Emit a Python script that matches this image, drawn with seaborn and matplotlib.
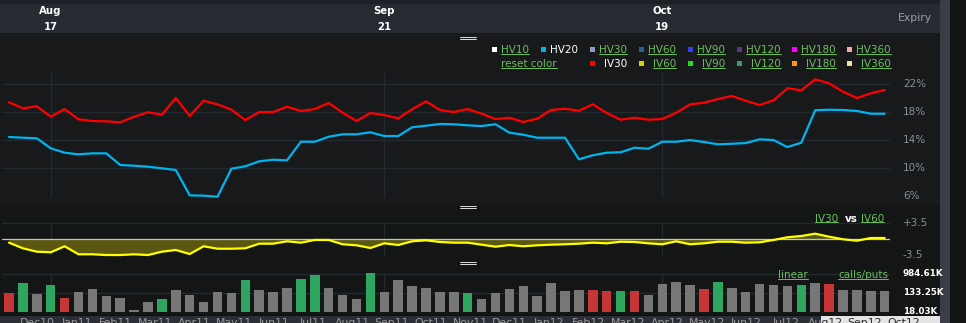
import numpy as np
import pandas as pd
import matplotlib
matplotlib.use("Agg")
import matplotlib.pyplot as plt
import seaborn as sns
from matplotlib.patches import Rectangle
from matplotlib.lines import Line2D
from matplotlib.transforms import blended_transform_factory, Bbox, TransformedBbox

# ---------------- data ----------------
iv30 = [19.43, 18.57, 18.86, 17.37, 18.47, 17.0, 16.76, 16.71, 16.57, 17.37,
        18.0, 17.66, 20.04, 17.47, 19.66, 19.14, 18.37, 16.9, 18.04, 18.04,
        18.8, 18.19, 18.47, 19.33, 17.94, 16.76, 17.9, 17.61, 17.14, 18.43,
        19.57, 18.33, 18.04, 18.47, 17.8, 17.04, 17.23, 16.61, 17.09, 18.33,
        18.51, 18.23, 19.14, 17.9, 16.94, 17.23, 16.94, 17.04, 17.94, 19.14,
        19.37, 19.9, 20.33, 19.66, 19.04, 19.71, 21.43, 21.14, 22.71, 22.14,
        20.94, 20.04, 20.71, 21.19]
hv20 = [14.47, 14.37, 14.29, 12.86, 12.23, 12.0, 12.14, 12.14, 10.47, 10.37,
        10.23, 10.0, 9.76, 6.14, 6.09, 5.94, 9.94, 10.29, 11.0, 11.23,
        11.14, 13.8, 13.8, 14.51, 14.86, 14.86, 15.14, 14.61, 14.61, 15.86,
        16.09, 16.33, 16.29, 16.14, 16.04, 16.29, 15.09, 14.8, 14.37, 14.37,
        14.37, 11.29, 11.86, 12.23, 12.29, 12.94, 12.8, 13.8, 13.8, 14.04,
        13.76, 13.43, 13.51, 13.61, 14.14, 14.04, 13.04, 13.66, 18.29, 18.37,
        18.33, 18.19, 17.8, 17.8]
spread = [-0.74, -1.97, -2.71, -2.84, -1.53, -3.28, -3.28, -3.44, -3.44, -3.28,
          -3.44, -2.71, -2.34, -3.22, -1.53, -2.06, -2.06, -1.97, -0.96, -0.96,
          -0.44, -0.74, -0.15, -0.15, -1.09, -1.31, -1.9, -0.88, -1.25, -0.44,
          -0.22, -0.59, -0.74, -0.74, -1.18, -1.62, -1.25, -1.53, -1.31, -1.18,
          -1.09, -0.96, -0.74, -0.88, -0.53, -0.59, -0.88, -1.09, -0.44, -1.09,
          -0.88, -0.53, -0.53, -0.74, -0.66, -0.15, 0.44, 0.72, 1.23, 0.57,
          0.0, -0.31, 0.28, 0.28]
volume_k = [123, 385, 119, 300, 80, 147, 203, 96, 75, 21.6,
            51, 70, 169, 107, 49, 147, 132, 513, 177, 147,
            218, 589, 838, 218, 110, 72, 1035, 137, 530, 259,
            225, 147, 143, 132, 70, 123, 196, 270, 93, 385,
            164, 177, 177, 164, 164, 164, 104, 321, 414, 288,
            196, 414, 225, 143, 345, 310, 259, 310, 372, 345,
            177, 169, 152, 152]
volume_kind = ["down", "up", "flat", "up", "down", "flat", "flat", "flat", "flat", "flat",
               "flat", "up", "flat", "flat", "flat", "flat", "flat", "up", "flat", "flat",
               "flat", "up", "up", "flat", "flat", "flat", "up", "flat", "flat", "flat",
               "flat", "flat", "flat", "up", "flat", "flat", "flat", "flat", "flat", "flat",
               "flat", "flat", "down", "down", "up", "down", "flat", "flat", "flat", "flat",
               "down", "up", "flat", "flat", "flat", "flat", "flat", "up", "flat", "down",
               "flat", "flat", "flat", "flat"]
expiry_month = ["Aug", "Sep", "Oct"]
expiry_day = ["17", "21", "19"]
expiry_index = [3, 27, 47]
pct_ticks = [22, 18, 14, 10, 6]
pct_grid = [22, 18, 14, 10]
spread_ticks = ["+3.5", "-3.5"]
spread_tick_vals = [3.5, -3.5]
vol_tick_labels = ["984.61K", "133.25K", "18.03K"]
vol_tick_vals = [984610, 133250, 18030]
nav_months = ["Dec10", "Jan11", "Feb11", "Mar11", "Apr11", "May11", "Jun11", "Jul11",
              "Aug11", "Sep11", "Oct11", "Nov11", "Dec11", "Jan12", "Feb12", "Mar12",
              "Apr12", "May12", "Jun12", "Jul12", "Aug12", "Sep12", "Oct12"]
legend_row1 = ["HV10", "HV20", "HV30", "HV60", "HV90", "HV120", "HV180", "HV360"]
legend_row1_colors = ["#ffffff", "#00b4f0", "#8e99c2", "#2e5b9a", "#3b3bef", "#5b3585", "#ff00ff", "#f4a9b0"]
legend_row2 = ["IV30", "IV60", "IV90", "IV120", "IV180", "IV360"]
legend_row2_colors = ["#ff0000", "#d2d200", "#22dd22", "#3d9a6a", "#ff9a00", "#e8e6a0"]

# ---------------- setup ----------------
sns.set_style("dark")
plt.rcParams["font.family"] = ["DejaVu Sans"]

W, H = 966, 323
fig = plt.figure(figsize=(W / 100, H / 100), dpi=100, facecolor="#17191b")

def fx(x):
    return x / W

def fy(y):
    return 1 - y / H

def bg(l, t, r, b, color, z=-10):
    fig.patches.append(Rectangle((l / W, 1 - b / H), (r - l) / W, (b - t) / H,
                                 transform=fig.transFigure, facecolor=color,
                                 edgecolor="none", zorder=z))

def add_axes(l, t, r, b):
    ax = fig.add_axes([l / W, 1 - b / H, (r - l) / W, (b - t) / H])
    ax.set_axis_off()
    return ax

GRID = "#232931"
LINK = "#6cbf5c"
LABEL = "#8b9097"

# backgrounds
bg(0, 0, 940, 4, "#1d2024")
bg(0, 4, 940, 33, "#262a31")
bg(0, 205, 940, 316, "#141616")
bg(0, 315, 940, 316, "#0e0f10")
bg(0, 316, 940, 323, "#2b2e34")
bg(940, 0, 950, 323, "#393e46")
bg(950, 0, 966, 323, "#131415")

idx = np.arange(len(iv30))
df = pd.DataFrame({"idx": idx, "IV30": iv30, "HV20": hv20, "spread": spread,
                   "volume": np.array(volume_k) * 1000.0, "kind": volume_kind})

x0px, step = 9.0, 13.9
def xlims(l, r):
    return ((l - x0px) / step, (r - x0px) / step)

# ---------------- main panel ----------------
ax = add_axes(2, 72, 890, 198)
ax.set_xlim(*xlims(2, 890))
ax.set_ylim(5.76, 23.76)
for g in pct_grid:
    ax.axhline(g, color=GRID, lw=1.0, zorder=0)
ax.vlines(expiry_index, 5.76, 23.76, color=GRID, lw=1.0, zorder=0)
sns.lineplot(data=df, x="idx", y="IV30", color="#ff0000", lw=1.6, ax=ax, zorder=3)
sns.lineplot(data=df, x="idx", y="HV20", color="#00b4f0", lw=1.6, ax=ax, zorder=3)
tr = blended_transform_factory(ax.transAxes, ax.transData)
lx = (903 - 2) / 888
for v in pct_ticks:
    ax.text(lx, v, f"{v}%", transform=tr, ha="left", va="center", color=LABEL, fontsize=7.5)

# ---------------- spread panel ----------------
ax2 = add_axes(2, 213, 890, 258)
ax2.set_xlim(*xlims(2, 890))
ax2.set_ylim(-4.09, 5.75)
ax2.axhline(3.5, color=GRID, lw=1.0, zorder=0)
ax2.vlines(expiry_index, -3.5, 3.5, color=GRID, lw=1.0, zorder=0)
ax2.fill_between(df["idx"], df["spread"], 0, color="#5b5710", lw=0, zorder=1)
ax2.axhline(0, color="#c4c4c4", lw=0.9, zorder=2)
sns.lineplot(data=df, x="idx", y="spread", color="#ffff00", lw=1.6, ax=ax2, zorder=3)
tr2 = blended_transform_factory(ax2.transAxes, ax2.transData)
for s, v in zip(spread_ticks, spread_tick_vals):
    ax2.text(lx, v, s, transform=tr2, ha="left", va="center", color=LABEL, fontsize=7.5)

# ---------------- volume panel ----------------
ax3 = add_axes(2, 262, 890, 311.7)
sns.barplot(data=df, x="idx", y="volume", hue="kind", native_scale=True, dodge=False,
            palette={"up": "#2fa660", "down": "#c73636", "flat": "#777777"},
            width=0.68, saturation=1, legend=False, ax=ax3, zorder=2, linewidth=0)
ax3.set_yscale("log")
ax3.set_xlim(*xlims(2, 890))
ax3.set_ylim(18030, 3.37e6)
ax3.set_axis_off()
for v in vol_tick_vals[:2]:
    ax3.axhline(v, color=GRID, lw=1.0, zorder=0)
ax3.vlines(expiry_index, 18030, vol_tick_vals[0], color=GRID, lw=1.0, zorder=0)
tr3 = blended_transform_factory(ax3.transAxes, ax3.transData)
for s, v in zip(vol_tick_labels, vol_tick_vals):
    ax3.text(lx, v, s, transform=tr3, ha="left", va="center", color="white",
             fontsize=6.3, fontweight="bold")

# ---------------- header ----------------
for m, d, i in zip(expiry_month, expiry_day, expiry_index):
    xp = x0px + step * i
    fig.text(fx(xp), fy(11), m, ha="center", va="center", color="white", fontsize=7.3, fontweight="bold")
    fig.text(fx(xp), fy(27), d, ha="center", va="center", color="white", fontsize=7.3, fontweight="bold")
fig.text(fx(915), fy(18), "Expiry", ha="center", va="center", color="#9a9ea5", fontsize=7.8)

# drag handles
for yh in (36.8, 205.8, 261.8):
    for dy in (0, 2.6):
        fig.lines.append(Line2D([fx(460), fx(476)], [fy(yh + dy), fy(yh + dy)],
                                transform=fig.transFigure, color="white", lw=0.6))

# ---------------- legend ----------------
links = []
def link(x, y, s, ha="left", color=LINK, weight="normal", underline=True, size=7.5):
    t = fig.text(fx(x), fy(y), s, ha=ha, va="baseline", color=color, fontsize=size, fontweight=weight)
    if underline:
        links.append((t, color))
    return t

def square(cx, cy, color):
    fig.patches.append(Rectangle((fx(cx - 2.5), fy(cy + 2.5)), 5.0 / W, 5.0 / H,
                                 transform=fig.transFigure, facecolor=color, edgecolor="none"))

row1_sq = [494, 543, 592, 641, 690, 739, 794, 849]
row1_right = [529, 578, 627, 676, 725, 781, 836, 891]
for name, col, sq, r in zip(legend_row1, legend_row1_colors, row1_sq, row1_right):
    square(sq, 49, col)
    if name == "HV20":
        link(r, 53.3, name, ha="right", color="white", underline=False)
    else:
        link(r, 53.3, name, ha="right")
link(501, 67.4, "reset color")
for name, col, sq, r in zip(legend_row2, legend_row2_colors, row1_sq[2:], row1_right[2:]):
    square(sq, 63.5, col)
    if name == "IV30":
        link(r, 67.4, name, ha="right", color="white", underline=False)
    else:
        link(r, 67.4, name, ha="right")

# spread label
link(815, 222, "IV30")
link(851, 222, "vs", ha="center", color="white", weight="bold", underline=False)
link(861, 222, "IV60")
# volume links
link(778, 278.3, "linear")
link(838, 278.3, "calls/puts")

# ---------------- navigator ----------------
bg(821, 316, 940, 323, "#e4e4e4", z=-9)
clip_left = TransformedBbox(Bbox.from_extents(0, 0, fx(821), 1), fig.transFigure)
clip_right = TransformedBbox(Bbox.from_extents(fx(821), 0, fx(940), 1), fig.transFigure)
for k, m in enumerate(nav_months):
    xp = 37 + 39.4 * k
    t1 = fig.text(fx(xp), fy(317.6), m, ha="center", va="top", color="#9b9b9b", fontsize=7.8)
    t1.set_clip_box(clip_left)
    t1.set_clip_on(True)
    if xp + 16 > 821:
        t2 = fig.text(fx(xp), fy(317.6), m, ha="center", va="top", color="#2a2a2a", fontsize=7.8)
        t2.set_clip_box(clip_right)
        t2.set_clip_on(True)

# underlines
fig.canvas.draw()
rend = fig.canvas.get_renderer()
for t, col in links:
    bb = t.get_window_extent(rend)
    yb = (bb.y0 + 1.6) / H
    fig.lines.append(Line2D([bb.x0 / W, bb.x1 / W], [yb, yb], transform=fig.transFigure,
                            color=col, lw=0.7))

fig.savefig("out.png", dpi=100, facecolor=fig.get_facecolor())
